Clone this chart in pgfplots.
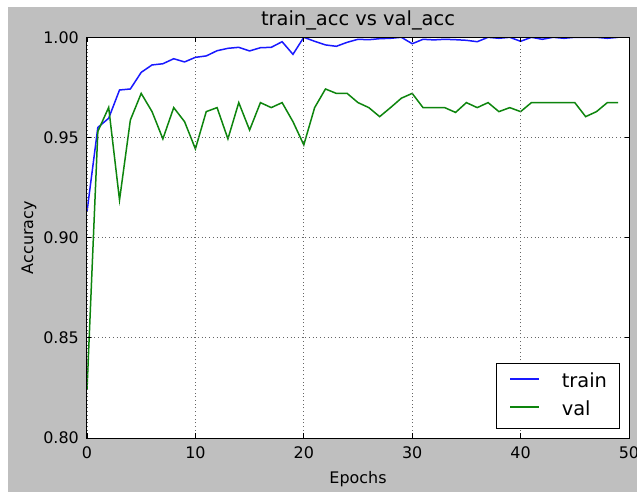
\documentclass[border=0pt]{standalone}
\usepackage{fontspec}
\setmainfont{DejaVu Sans}
\usepackage{pgfplots}
\usepackage{pgfplotstable}
\pgfplotsset{compat=1.18}
\definecolor{bgfig}{gray}{0.75}
\definecolor{trainc}{rgb}{0.1,0.1,1.0}
\definecolor{valc}{rgb}{0.05,0.52,0.05}

\pgfplotstableread{
e acc
0 0.913
1 0.955
2 0.9596
3 0.9737
4 0.9742
5 0.9825
6 0.9862
7 0.9868
8 0.9893
9 0.9877
10 0.9900
11 0.9907
12 0.9933
13 0.9945
14 0.9950
15 0.9932
16 0.9948
17 0.9950
18 0.9978
19 0.9915
20 1.0000
21 0.9980
22 0.9962
23 0.9955
24 0.9975
25 0.9990
26 0.9988
27 0.9993
28 0.9995
29 1.0000
30 0.9968
31 0.9990
32 0.9987
33 0.9990
34 0.9988
35 0.9985
36 0.9978
37 1.0000
38 0.9995
39 1.0000
40 0.9980
41 1.0000
42 0.9990
43 1.0000
44 0.9995
45 1.0000
46 1.0000
47 1.0000
48 0.9995
49 1.0000
}\traintable

\pgfplotstableread{
e acc
0 0.824
1 0.953
2 0.965
3 0.9188
4 0.9587
5 0.972
6 0.9629
7 0.9493
8 0.9649
9 0.9579
10 0.9443
11 0.9629
12 0.9649
13 0.9493
14 0.9674
15 0.9537
16 0.9674
17 0.9649
18 0.9674
19 0.9579
20 0.9463
21 0.9649
22 0.9742
23 0.972
24 0.972
25 0.9674
26 0.9649
27 0.9604
28 0.9649
29 0.9696
30 0.972
31 0.9649
32 0.9649
33 0.9649
34 0.9625
35 0.9674
36 0.9649
37 0.9674
38 0.9629
39 0.9649
40 0.9629
41 0.9674
42 0.9674
43 0.9674
44 0.9674
45 0.9674
46 0.9604
47 0.9629
48 0.9674
49 0.9674
}\valtable

\begin{document}
\begin{tikzpicture}
\useasboundingbox (-87bp,-54bp) rectangle (550bp,438bp);
\fill[white] (-87bp,-54bp) rectangle (550bp,438bp);
\fill[bgfig] (-79bp,-54bp) rectangle (550bp,431bp);
\begin{axis}[
  at={(0,0)}, anchor=south west,
  scale only axis, width=542bp, height=400.7bp,
  xmin=0, xmax=50, ymin=0.8, ymax=1.0,
  xtick={0,10,20,30,40,50},
  ytick={0.80,0.85,0.90,0.95,1.00},
  yticklabels={0.80,0.85,0.90,0.95,1.00},
  axis background/.style={fill=white},
  axis on top,
  axis line style={line width=1bp, black},
  tick style={black, line width=0.8bp},
  tick align=inside, major tick length=4.5bp,
  grid=major,
  major grid style={black!60, line width=0.7bp, dash pattern=on 0.9bp off 2.8bp},
  ticklabel style={font=\fontsize{16}{19}\selectfont},
  /pgf/number format/assume math mode=true,
  xticklabel style={inner sep=0pt, yshift=-8.7bp},
  yticklabel style={inner sep=0pt, xshift=-8bp},
  title={train\_acc vs val\_acc},
  title style={font=\fontsize{19.5}{23}\selectfont, at={(axis description cs:0.5,1)}, anchor=base, yshift=6.3bp, inner sep=0pt},
  xlabel={Epochs},
  xlabel style={font=\fontsize{16}{19}\selectfont, at={(axis description cs:0.5,0)}, anchor=base, yshift=-45bp, inner sep=0pt},
  ylabel={Accuracy},
  ylabel style={font=\fontsize{16}{19}\selectfont, at={(axis description cs:-0.0996,0.5)}, anchor=base, inner sep=0pt},
  legend style={at={(axis description cs:1,0)}, anchor=south east, xshift=-9bp, yshift=9bp,
    draw=black, line width=1bp, fill=white, inner xsep=12.5bp, inner ysep=9.5bp,
    font=\fontsize{19.5}{23}\selectfont, row sep=10bp, column sep=22bp,
    nodes={inner sep=0pt, text height=14bp, text depth=4bp, anchor=base west}},
  legend image code/.code={\draw[#1] (0bp,8bp) -- (29bp,8bp);},
]
\addplot[trainc, line width=1.5bp] table[x=e, y=acc] {\traintable};
\addlegendentry{train}
\addplot[valc, line width=1.5bp] table[x=e, y=acc] {\valtable};
\addlegendentry{val}
\end{axis}
\end{tikzpicture}
\end{document}
